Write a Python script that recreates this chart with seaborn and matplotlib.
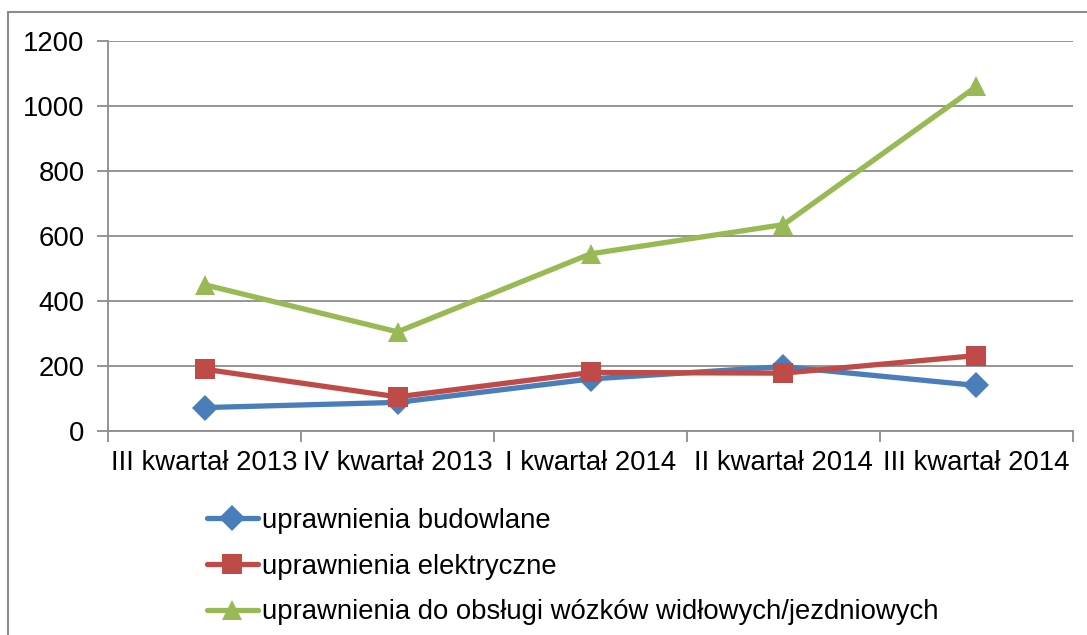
import pandas as pd
import matplotlib.pyplot as plt
import seaborn as sns
from matplotlib.lines import Line2D
from matplotlib.patches import Rectangle

# dane kwartalne
kwartaly = ['III kwartał 2013', 'IV kwartał 2013', 'I kwartał 2014', 'II kwartał 2014', 'III kwartał 2014']
budowlane = [72, 88, 160, 198, 140]
elektryczne = [190, 105, 180, 178, 232]
wozki = [450, 305, 545, 635, 1060]
serie = ['uprawnienia budowlane', 'uprawnienia elektryczne',
         'uprawnienia do obsługi wózków widłowych/jezdniowych']

kolory = ['#4A7EBB', '#BE4B48', '#98B954']
znaczniki = ['D', 's', '^']
rozmiary = [13, 14, 15]

sns.set_theme(style='white')
plt.rcParams['font.family'] = ['Liberation Sans', 'DejaVu Sans']

df = pd.DataFrame({
    'kwartal': kwartaly * 3,
    'wartosc': budowlane + elektryczne + wozki,
    'seria': [s for s in serie for _ in kwartaly],
})
df['x'] = [i for _ in serie for i in range(len(kwartaly))]

fig = plt.figure(figsize=(10.87, 6.35), dpi=100)
ax = fig.add_axes([0.0994, 0.3213, 0.8877, 0.6142])

# ramka wykresu
fig.patches.append(Rectangle((8 / 1087, -0.1), 1.2, 0.1 + (635 - 12) / 635,
                             transform=fig.transFigure, fill=False,
                             edgecolor='#8c8c8c', linewidth=1.5))

for s, c, m, ms in zip(serie, kolory, znaczniki, rozmiary):
    sub = df[df['seria'] == s]
    sns.lineplot(data=sub, x='x', y='wartosc', ax=ax, color=c, linewidth=3.8,
                 marker=m, markersize=ms, markeredgewidth=0, sort=False, legend=False)

ax.set_xlim(-0.5, 4.5)
ax.set_ylim(0, 1200)
ax.set_yticks(range(0, 1201, 200))
ax.set_xticks(range(5))
ax.set_xticklabels(kwartaly)
ax.set_xticks([i - 0.5 for i in range(6)], minor=True)
ax.set_xlabel('')
ax.set_ylabel('')
ax.grid(axis='y', color='#8c8c8c', linewidth=1.3)
ax.set_axisbelow(True)
for sp in ['top', 'right']:
    ax.spines[sp].set_visible(False)
for sp in ['left', 'bottom']:
    ax.spines[sp].set_color('#8c8c8c')
    ax.spines[sp].set_linewidth(1.3)
ax.tick_params(axis='x', which='major', length=0, labelsize=19.8, pad=14, labelcolor='black')
ax.tick_params(axis='x', which='minor', length=8, width=1.3, color='#8c8c8c', bottom=True)
ax.tick_params(axis='y', length=8, width=1.3, color='#8c8c8c', labelsize=19.8, pad=9,
               left=True, labelcolor='black')

uchwyty = [Line2D([0], [0], color=c, linewidth=3.8, marker=m, markersize=ms, markeredgewidth=0)
           for c, m, ms in zip(kolory, znaczniki, rozmiary)]
fig.legend(uchwyty, serie, loc='upper left', bbox_to_anchor=(193 / 1087, 1 - 494 / 635),
           frameon=False, fontsize=19.8, handlelength=1.85, handletextpad=0.15,
           labelspacing=0.72, borderpad=0, labelcolor='black')

fig.savefig('out.png', dpi=100)
